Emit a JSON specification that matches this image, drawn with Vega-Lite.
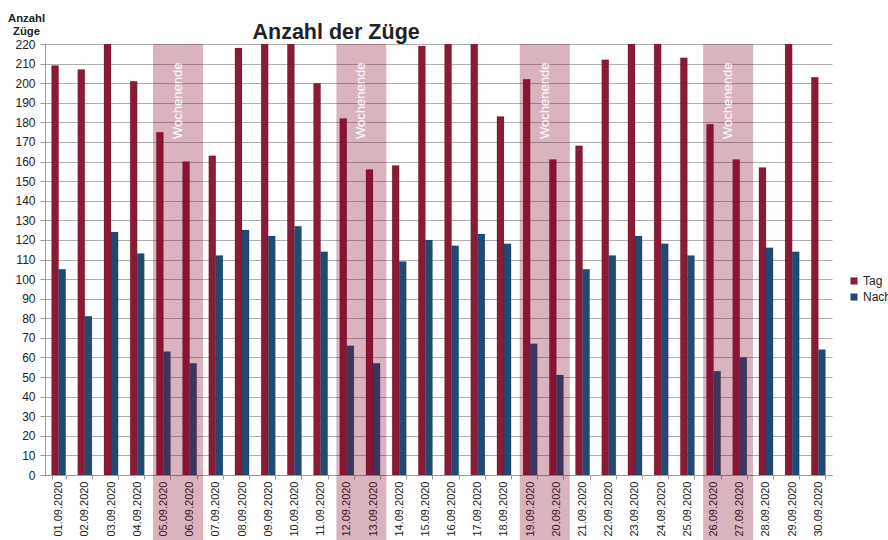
{
  "$schema": "https://vega.github.io/schema/vega-lite/v6.json",
  "width": 787,
  "height": 431,
  "autosize": {"type": "none"},
  "padding": {"left": 45, "top": 44, "right": 56, "bottom": 65},
  "background": "white",
  "config": {
    "font": "Liberation Sans",
    "view": {"stroke": null},
    "axis": {"labelFont": "Liberation Sans", "titleFont": "Liberation Sans"}
  },
  "title": {
    "text": "Anzahl der Züge",
    "anchor": "start",
    "dx": 245,
    "dy": 35,
    "fontSize": 21.5,
    "fontWeight": "bold",
    "color": "#222222",
    "font": "Liberation Sans"
  },
  "resolve": {"axis": {"y": "independent"}, "scale": {"y": "shared"}},
  "datasets": {
    "zuege": [
      {"date": "01.09.2020", "serie": "Tag", "anzahl": 209}, {"date": "01.09.2020", "serie": "Nacht", "anzahl": 105},
      {"date": "02.09.2020", "serie": "Tag", "anzahl": 207}, {"date": "02.09.2020", "serie": "Nacht", "anzahl": 81},
      {"date": "03.09.2020", "serie": "Tag", "anzahl": 228}, {"date": "03.09.2020", "serie": "Nacht", "anzahl": 124},
      {"date": "04.09.2020", "serie": "Tag", "anzahl": 201}, {"date": "04.09.2020", "serie": "Nacht", "anzahl": 113},
      {"date": "05.09.2020", "serie": "Tag", "anzahl": 175}, {"date": "05.09.2020", "serie": "Nacht", "anzahl": 63},
      {"date": "06.09.2020", "serie": "Tag", "anzahl": 160}, {"date": "06.09.2020", "serie": "Nacht", "anzahl": 57},
      {"date": "07.09.2020", "serie": "Tag", "anzahl": 163}, {"date": "07.09.2020", "serie": "Nacht", "anzahl": 112},
      {"date": "08.09.2020", "serie": "Tag", "anzahl": 218}, {"date": "08.09.2020", "serie": "Nacht", "anzahl": 125},
      {"date": "09.09.2020", "serie": "Tag", "anzahl": 232}, {"date": "09.09.2020", "serie": "Nacht", "anzahl": 122},
      {"date": "10.09.2020", "serie": "Tag", "anzahl": 236}, {"date": "10.09.2020", "serie": "Nacht", "anzahl": 127},
      {"date": "11.09.2020", "serie": "Tag", "anzahl": 200}, {"date": "11.09.2020", "serie": "Nacht", "anzahl": 114},
      {"date": "12.09.2020", "serie": "Tag", "anzahl": 182}, {"date": "12.09.2020", "serie": "Nacht", "anzahl": 66},
      {"date": "13.09.2020", "serie": "Tag", "anzahl": 156}, {"date": "13.09.2020", "serie": "Nacht", "anzahl": 57},
      {"date": "14.09.2020", "serie": "Tag", "anzahl": 158}, {"date": "14.09.2020", "serie": "Nacht", "anzahl": 109},
      {"date": "15.09.2020", "serie": "Tag", "anzahl": 219}, {"date": "15.09.2020", "serie": "Nacht", "anzahl": 120},
      {"date": "16.09.2020", "serie": "Tag", "anzahl": 230}, {"date": "16.09.2020", "serie": "Nacht", "anzahl": 117},
      {"date": "17.09.2020", "serie": "Tag", "anzahl": 234}, {"date": "17.09.2020", "serie": "Nacht", "anzahl": 123},
      {"date": "18.09.2020", "serie": "Tag", "anzahl": 183}, {"date": "18.09.2020", "serie": "Nacht", "anzahl": 118},
      {"date": "19.09.2020", "serie": "Tag", "anzahl": 202}, {"date": "19.09.2020", "serie": "Nacht", "anzahl": 67},
      {"date": "20.09.2020", "serie": "Tag", "anzahl": 161}, {"date": "20.09.2020", "serie": "Nacht", "anzahl": 51},
      {"date": "21.09.2020", "serie": "Tag", "anzahl": 168}, {"date": "21.09.2020", "serie": "Nacht", "anzahl": 105},
      {"date": "22.09.2020", "serie": "Tag", "anzahl": 212}, {"date": "22.09.2020", "serie": "Nacht", "anzahl": 112},
      {"date": "23.09.2020", "serie": "Tag", "anzahl": 231}, {"date": "23.09.2020", "serie": "Nacht", "anzahl": 122},
      {"date": "24.09.2020", "serie": "Tag", "anzahl": 229}, {"date": "24.09.2020", "serie": "Nacht", "anzahl": 118},
      {"date": "25.09.2020", "serie": "Tag", "anzahl": 213}, {"date": "25.09.2020", "serie": "Nacht", "anzahl": 112},
      {"date": "26.09.2020", "serie": "Tag", "anzahl": 179}, {"date": "26.09.2020", "serie": "Nacht", "anzahl": 53},
      {"date": "27.09.2020", "serie": "Tag", "anzahl": 161}, {"date": "27.09.2020", "serie": "Nacht", "anzahl": 60},
      {"date": "28.09.2020", "serie": "Tag", "anzahl": 157}, {"date": "28.09.2020", "serie": "Nacht", "anzahl": 116},
      {"date": "29.09.2020", "serie": "Tag", "anzahl": 233}, {"date": "29.09.2020", "serie": "Nacht", "anzahl": 114},
      {"date": "30.09.2020", "serie": "Tag", "anzahl": 203}, {"date": "30.09.2020", "serie": "Nacht", "anzahl": 64}
    ],
    "wochenende": [
      {"start": "05.09.2020", "ende": "06.09.2020", "label": "Wochenende"},
      {"start": "12.09.2020", "ende": "13.09.2020", "label": "Wochenende"},
      {"start": "19.09.2020", "ende": "20.09.2020", "label": "Wochenende"},
      {"start": "26.09.2020", "ende": "27.09.2020", "label": "Wochenende"}
    ]
  },
  "layer": [
    {
      "data": {"name": "zuege"},
      "mark": {"type": "bar", "clip": true, "stroke": "#00000033", "strokeWidth": 0.6},
      "encoding": {
        "x": {
          "field": "date",
          "type": "nominal",
          "sort": "ascending",
          "scale": {"paddingInner": 0.46, "paddingOuter": 0.25},
          "axis": {
            "title": null,
            "labelAngle": 270,
            "labelAlign": "right",
            "labelBaseline": "middle",
            "labelFontSize": 11,
            "labelColor": "#222222",
            "labelPadding": 2,
            "tickBand": "extent",
            "tickColor": "#9a9a9a",
            "tickSize": 4,
            "domainColor": "#9a9a9a",
            "grid": false
          }
        },
        "xOffset": {"field": "serie", "type": "nominal", "sort": ["Tag", "Nacht"], "scale": {"paddingInner": 0, "paddingOuter": 0}},
        "y": {
          "field": "anzahl",
          "type": "quantitative",
          "scale": {"domain": [0, 220], "nice": false},
          "axis": {
            "values": [0, 10, 20, 30, 40, 50, 60, 70, 80, 90, 100, 110, 120, 130, 140, 150, 160, 170, 180, 190, 200, 210, 220],
            "labelOverlap": false,
            "title": ["Anzahl", "Züge"],
            "titleAngle": 0,
            "titleAlign": "center",
            "titleBaseline": "alphabetic",
            "titleX": -19,
            "titleY": -23,
            "titleFontSize": 11.3,
            "titleFontWeight": "bold",
            "titleColor": "#222222",
            "titleLineHeight": 13,
            "labelFontSize": 12,
            "labelColor": "#222222",
            "labelPadding": 5,
            "tickSize": 5,
            "tickColor": "#9a9a9a",
            "domainColor": "#9a9a9a",
            "gridColor": "#b0b0b0",
            "gridWidth": 1
          }
        },
        "color": {
          "field": "serie",
          "type": "nominal",
          "scale": {"domain": ["Tag", "Nacht"], "range": ["#8b1a35", "#1f4a74"]},
          "legend": {
            "title": null,
            "orient": "none",
            "legendX": 803,
            "legendY": 231,
            "symbolType": "square",
            "symbolSize": 50,
            "symbolStrokeWidth": 0,
            "labelFontSize": 12,
            "labelColor": "#222222",
            "labelOffset": 3,
            "rowPadding": 4
          }
        }
      }
    },
    {
      "data": {"name": "wochenende"},
      "mark": {"type": "rect", "fill": "#80082a", "opacity": 0.3, "clip": false},
      "encoding": {
        "x": {"field": "start", "type": "nominal", "bandPosition": -0.237},
        "x2": {"field": "ende", "bandPosition": 1.445},
        "y": {"datum": 220, "type": "quantitative", "axis": null},
        "y2": {"datum": -34}
      }
    },
    {
      "data": {"name": "wochenende"},
      "mark": {"type": "text", "angle": 270, "align": "center", "baseline": "middle", "color": "#ffffff", "fontSize": 13, "font": "Liberation Sans"},
      "encoding": {
        "x": {"field": "start", "type": "nominal", "bandPosition": 1.53},
        "y": {"datum": 191, "type": "quantitative", "axis": null},
        "text": {"field": "label"}
      }
    }
  ]
}
